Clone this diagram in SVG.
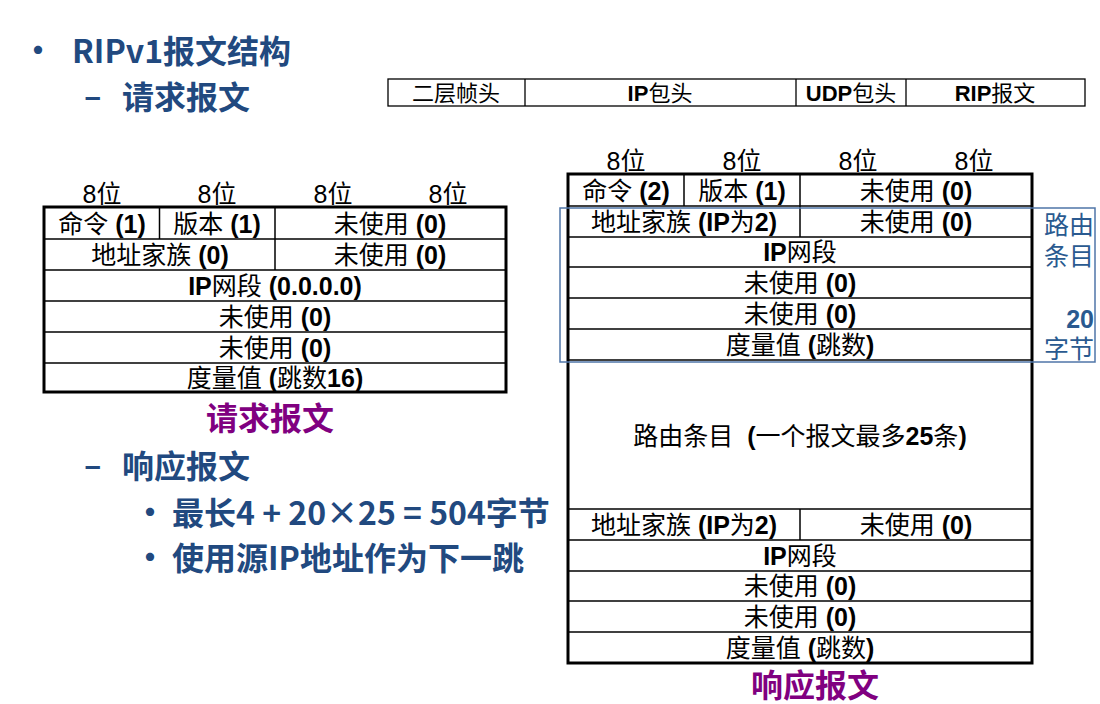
<svg xmlns="http://www.w3.org/2000/svg" width="1100" height="704" viewBox="0 0 1100 704">
<style>
.bg{fill:#ffffff}
.hd{font-family:"Noto Sans CJK SC","Microsoft YaHei",sans-serif;font-weight:bold;font-size:32px;fill:#21497f}
.pu{font-family:"Noto Sans CJK SC",sans-serif;font-weight:bold;font-size:32px;fill:#800080}
.cell{font-family:"Liberation Sans","Noto Sans CJK SC",sans-serif;font-size:25px;fill:#000;text-anchor:middle}
.bar{font-family:"Liberation Sans","Noto Sans CJK SC",sans-serif;font-size:22px;fill:#000;text-anchor:middle}
.b{font-weight:bold}
.lab{font-family:"Liberation Sans","Noto Sans CJK SC",sans-serif;font-size:25px;fill:#2a5a90;text-anchor:end}
.outer{fill:none;stroke:#000;stroke-width:3}
.inner{stroke:#000;stroke-width:1.5;fill:none}
.thin{fill:none;stroke:#000;stroke-width:1.3}
.blue{fill:none;stroke:#4f75a8;stroke-width:1.5}
</style>
<rect class="bg" x="0" y="0" width="1100" height="704"/>

<g id="title">
<text class="hd" x="22" y="62">•</text>
<text class="hd" x="72" y="63">RIPv1报文结构</text>
<text class="hd" x="84" y="108" font-weight="normal">–</text>
<text class="hd" x="122" y="109">请求报文</text>
<text class="hd" x="84" y="477" font-weight="normal">–</text>
<text class="hd" x="122" y="478">响应报文</text>
<text class="hd" x="134" y="524">•</text>
<text class="hd" x="172" y="525">最长4 + 20×25 = 504字节</text>
<text class="hd" x="134" y="569">•</text>
<text class="hd" x="172" y="570">使用源IP地址作为下一跳</text>
</g>

<g id="frame-bar">
<rect class="thin" x="388" y="79" width="697" height="27"/>
<line class="thin" x1="525" y1="79" x2="525" y2="106"/>
<line class="thin" x1="796" y1="79" x2="796" y2="106"/>
<line class="thin" x1="906" y1="79" x2="906" y2="106"/>
<text class="bar" x="456" y="101">二层帧头</text>
<text class="bar" x="660" y="101"><tspan class="b">IP</tspan>包头</text>
<text class="bar" x="851" y="101"><tspan class="b">UDP</tspan>包头</text>
<text class="bar" x="995" y="101"><tspan class="b">RIP</tspan>报文</text>
</g>

<g id="request-table">
<text class="cell" x="102" y="203">8位</text>
<text class="cell" x="217" y="203">8位</text>
<text class="cell" x="333" y="203">8位</text>
<text class="cell" x="448" y="203">8位</text>
<line class="inner" x1="44" y1="239" x2="506" y2="239"/>
<line class="inner" x1="44" y1="270" x2="506" y2="270"/>
<line class="inner" x1="44" y1="301" x2="506" y2="301"/>
<line class="inner" x1="44" y1="332" x2="506" y2="332"/>
<line class="inner" x1="44" y1="363" x2="506" y2="363"/>
<line class="inner" x1="159.5" y1="207" x2="159.5" y2="239"/>
<line class="inner" x1="275" y1="207" x2="275" y2="270"/>
<rect class="outer" x="44" y="207" width="462" height="185"/>
<text class="cell" x="102" y="233">命令 <tspan class="b">(1)</tspan></text>
<text class="cell" x="217" y="233">版本 <tspan class="b">(1)</tspan></text>
<text class="cell" x="390" y="233">未使用 <tspan class="b">(0)</tspan></text>
<text class="cell" x="160" y="264">地址家族 <tspan class="b">(0)</tspan></text>
<text class="cell" x="390" y="264">未使用 <tspan class="b">(0)</tspan></text>
<text class="cell" x="275" y="295"><tspan class="b">IP</tspan>网段 <tspan class="b">(0.0.0.0)</tspan></text>
<text class="cell" x="275" y="326">未使用 <tspan class="b">(0)</tspan></text>
<text class="cell" x="275" y="357">未使用 <tspan class="b">(0)</tspan></text>
<text class="cell" x="275" y="387">度量值 <tspan class="b">(</tspan>跳数<tspan class="b">16)</tspan></text>
<text class="pu" x="270" y="430" text-anchor="middle">请求报文</text>
</g>

<g id="response-table">
<text class="cell" x="626" y="170">8位</text>
<text class="cell" x="742" y="170">8位</text>
<text class="cell" x="858" y="170">8位</text>
<text class="cell" x="974" y="170">8位</text>
<line class="inner" x1="568" y1="206" x2="1032" y2="206"/>
<line class="inner" x1="568" y1="237" x2="1032" y2="237"/>
<line class="inner" x1="568" y1="267" x2="1032" y2="267"/>
<line class="inner" x1="568" y1="298" x2="1032" y2="298"/>
<line class="inner" x1="568" y1="329" x2="1032" y2="329"/>
<line class="inner" x1="568" y1="360" x2="1032" y2="360"/>
<line class="inner" x1="568" y1="509" x2="1032" y2="509"/>
<line class="inner" x1="568" y1="540" x2="1032" y2="540"/>
<line class="inner" x1="568" y1="571" x2="1032" y2="571"/>
<line class="inner" x1="568" y1="601" x2="1032" y2="601"/>
<line class="inner" x1="568" y1="632" x2="1032" y2="632"/>
<line class="inner" x1="684" y1="174" x2="684" y2="206"/>
<line class="inner" x1="800" y1="174" x2="800" y2="237"/>
<line class="inner" x1="800" y1="509" x2="800" y2="540"/>
<rect class="outer" x="568" y="174" width="464" height="489"/>
<text class="cell" x="626" y="200">命令 <tspan class="b">(2)</tspan></text>
<text class="cell" x="742" y="200">版本 <tspan class="b">(1)</tspan></text>
<text class="cell" x="916" y="200">未使用 <tspan class="b">(0)</tspan></text>
<text class="cell" x="684" y="231">地址家族 <tspan class="b">(IP</tspan>为<tspan class="b">2)</tspan></text>
<text class="cell" x="916" y="231">未使用 <tspan class="b">(0)</tspan></text>
<text class="cell" x="800" y="261"><tspan class="b">IP</tspan>网段</text>
<text class="cell" x="800" y="292">未使用 <tspan class="b">(0)</tspan></text>
<text class="cell" x="800" y="323">未使用 <tspan class="b">(0)</tspan></text>
<text class="cell" x="800" y="354">度量值 <tspan class="b">(</tspan>跳数<tspan class="b">)</tspan></text>
<text class="cell" x="800" y="445">路由条目&#160;&#160;<tspan class="b">(</tspan>一个报文最多<tspan class="b">25</tspan>条<tspan class="b">)</tspan></text>
<text class="cell" x="684" y="534">地址家族 <tspan class="b">(IP</tspan>为<tspan class="b">2)</tspan></text>
<text class="cell" x="916" y="534">未使用 <tspan class="b">(0)</tspan></text>
<text class="cell" x="800" y="565"><tspan class="b">IP</tspan>网段</text>
<text class="cell" x="800" y="595">未使用 <tspan class="b">(0)</tspan></text>
<text class="cell" x="800" y="626">未使用 <tspan class="b">(0)</tspan></text>
<text class="cell" x="800" y="657">度量值 <tspan class="b">(</tspan>跳数<tspan class="b">)</tspan></text>
<text class="pu" x="815" y="697" text-anchor="middle">响应报文</text>
</g>

<g id="route-entry-label">
<rect class="blue" x="560" y="208" width="535" height="154"/>
<text class="lab" x="1094" y="234">路由</text>
<text class="lab" x="1094" y="265">条目</text>
<text class="lab b" x="1094" y="328">20</text>
<text class="lab" x="1094" y="358">字节</text>
</g>

<g id="connectors"/>
</svg>
